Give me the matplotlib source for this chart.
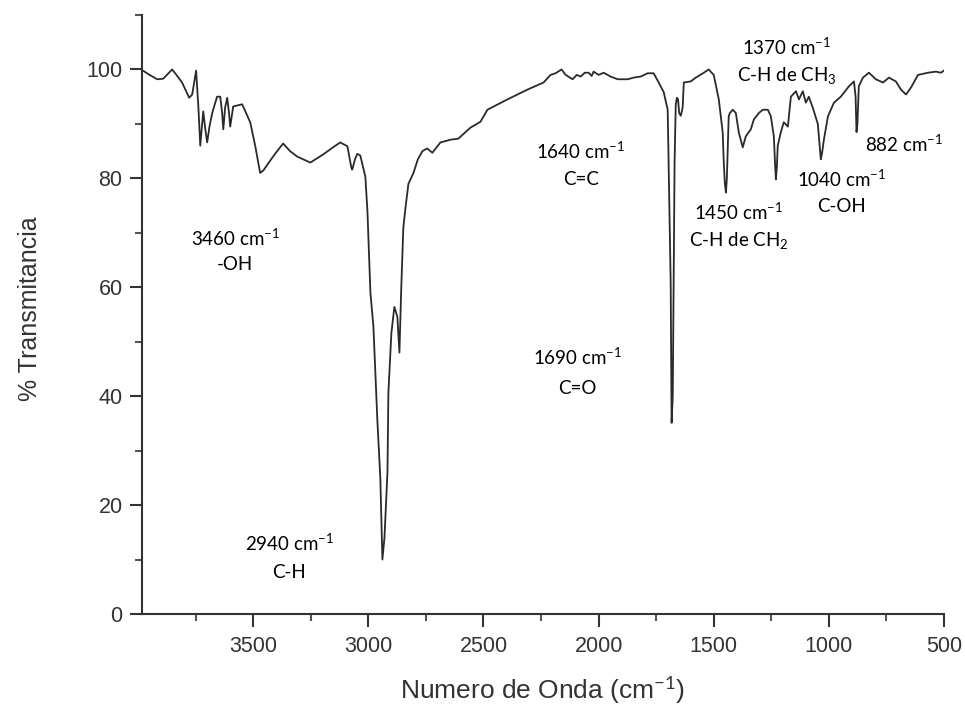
import matplotlib
matplotlib.use("Agg")
import matplotlib.pyplot as plt
from matplotlib.ticker import MultipleLocator

plt.rcParams['font.family'] = ['Liberation Sans', 'DejaVu Sans']
plt.rcParams['mathtext.fontset'] = 'custom'
plt.rcParams['mathtext.rm'] = 'Lato'
plt.rcParams['mathtext.it'] = 'Lato:italic'
plt.rcParams['mathtext.bf'] = 'Lato:bold'

# Spectrum: wavenumber (cm-1) and % transmittance
wavenumber = [3983, 3950, 3917, 3891, 3852, 3830, 3809, 3778, 3765, 3748, 3738, 3730, 3724, 3717,
              3708, 3700, 3690, 3678, 3657, 3643, 3635, 3630, 3622, 3613, 3605, 3600, 3587, 3548,
              3513, 3491, 3470, 3455, 3439, 3400, 3370, 3340, 3309, 3252, 3196, 3150, 3122, 3091,
              3074, 3070, 3058, 3048, 3035, 3013, 3004, 2991, 2978, 2961, 2948, 2942, 2939, 2930,
              2917, 2913, 2900, 2887, 2874, 2865, 2857, 2848, 2839, 2826, 2804, 2785, 2765, 2745,
              2722, 2687, 2643, 2609, 2557, 2513, 2483, 2396, 2309, 2239, 2209, 2187, 2161, 2143,
              2113, 2095, 2078, 2060, 2043, 2030, 2022, 2000, 1978, 1948, 1917, 1874, 1848, 1817,
              1787, 1761, 1739, 1717, 1700, 1696, 1687, 1683, 1678, 1674, 1670, 1665, 1660, 1655,
              1650, 1643, 1635, 1630, 1600, 1578, 1543, 1522, 1500, 1478, 1461, 1457, 1452, 1447,
              1443, 1439, 1435, 1430, 1417, 1404, 1391, 1374, 1361, 1339, 1326, 1304, 1287, 1265,
              1252, 1239, 1233, 1230, 1226, 1222, 1209, 1196, 1178, 1165, 1143, 1130, 1113, 1100,
              1087, 1070, 1048, 1040, 1035, 1030, 1022, 1004, 978, 948, 913, 891, 884, 880, 876,
              870, 852, 826, 796, 765, 739, 709, 687, 665, 643, 613, 570, 535, 513, 500]
transmittance = [99.9, 99.0, 98.2, 98.3, 100.0, 98.8, 97.6, 94.8, 95.4, 99.8, 93.0, 86.0, 89.0, 92.3,
                 89.0, 86.6, 89.5, 92.0, 95.0, 95.0, 92.0, 89.0, 93.0, 94.8, 92.0, 89.5, 93.2, 93.6,
                 90.3, 85.9, 81.0, 81.5, 82.5, 84.8, 86.4, 85.0, 84.0, 82.9, 84.4, 85.8, 86.6, 85.9,
                 82.0, 81.6, 83.5, 84.5, 84.2, 80.3, 74.0, 59.0, 52.8, 35.7, 25.0, 15.0, 10.0, 14.0,
                 26.0, 40.6, 51.6, 56.4, 54.6, 48.0, 60.0, 71.0, 74.5, 79.0, 81.0, 83.5, 85.0, 85.5,
                 84.7, 86.6, 87.1, 87.3, 89.3, 90.4, 92.6, 94.5, 96.3, 97.6, 99.0, 99.3, 100.0, 99.0,
                 98.2, 99.0, 98.7, 99.4, 99.4, 98.8, 99.6, 99.0, 99.4, 98.7, 98.2, 98.2, 98.5, 98.7,
                 99.3, 99.3, 97.6, 95.8, 92.6, 82.9, 60.8, 35.1, 40.0, 62.0, 83.0, 93.5, 94.8, 94.5,
                 92.0, 91.5, 93.0, 97.6, 97.8, 98.5, 99.4, 100.0, 99.0, 94.5, 88.4, 83.5, 79.2, 77.4,
                 80.0, 86.0, 91.4, 92.0, 92.6, 92.0, 88.4, 85.7, 87.7, 89.0, 90.8, 92.0, 92.6, 92.6,
                 91.4, 87.7, 82.0, 79.8, 82.0, 86.0, 88.4, 90.3, 89.5, 95.0, 96.0, 94.5, 96.0, 93.9,
                 95.0, 93.0, 90.0, 86.0, 83.5, 84.5, 87.0, 91.4, 93.9, 95.0, 96.9, 97.8, 95.0, 88.5, 90.0,
                 96.9, 98.5, 99.4, 98.2, 97.6, 98.5, 97.8, 96.3, 95.4, 96.7, 99.0, 99.4, 99.6, 99.4, 99.8]

# Peak annotations: (first line, second line)
peak_labels = [
    ("3460 cm$^{-1}$", "-OH"),
    ("2940 cm$^{-1}$", "C-H"),
    ("1640 cm$^{-1}$", "C=C"),
    ("1690 cm$^{-1}$", "C=O"),
    ("1450 cm$^{-1}$", "C-H de CH$_{2}$"),
    ("1370 cm$^{-1}$", "C-H de CH$_{3}$"),
    ("1040 cm$^{-1}$", "C-OH"),
    ("882 cm$^{-1}$", ""),
]
# label placement (wavenumber, %T of first line, %T of second line)
label_pos = [(3578, 69.1, 64.2), (3343, 13.0, 7.7), (2078, 84.9, 79.8), (2091, 47.1, 41.4),
             (1391, 73.7, 68.6), (1183, 104.0, 98.9), (943, 79.8, 74.8), (674, 86.2, None)]

x_ticks = [3500, 3000, 2500, 2000, 1500, 1000, 500]
y_ticks = [0, 20, 40, 60, 80, 100]

fig = plt.figure(figsize=(9.65, 7.08), dpi=100)
ax = fig.add_axes([142/965, 1-614/708, (944-142)/965, (614-15)/708])

ax.plot(wavenumber, transmittance, color='#2a2a2a', lw=1.3)

ax.set_xlim(3983, 500)
ax.set_ylim(0, 110)
ax.set_xticks(x_ticks)
ax.set_yticks(y_ticks)
ax.xaxis.set_minor_locator(MultipleLocator(250))
ax.yaxis.set_minor_locator(MultipleLocator(10))

for s in ['top', 'right']:
    ax.spines[s].set_visible(False)
for s in ['left', 'bottom']:
    ax.spines[s].set_color('#333333')
    ax.spines[s].set_linewidth(1.5)

ax.tick_params(which='major', direction='out', length=9, width=1.5, color='#333333',
               labelsize=15.5, labelcolor='#333333')
ax.tick_params(axis='x', which='major', pad=7)
ax.tick_params(axis='y', which='major', pad=5)
ax.tick_params(which='minor', direction='out', length=5, width=1.5, color='#555555')

ax.set_xlabel("Numero de Onda (cm$^{-1}$)", fontsize=19, color='#333333')
ax.set_ylabel("% Transmitancia", fontsize=18, color='#333333')
ax.xaxis.set_label_coords(0.5, -0.1)
ax.yaxis.set_label_coords(-0.125, 0.51)

for (l1, l2), (xw, y1, y2) in zip(peak_labels, label_pos):
    ax.text(xw, y1, l1, ha='center', va='center', fontsize=13.5, family=['Lato', 'DejaVu Sans'],
            color='black')
    if l2 and y2 is not None:
        ax.text(xw, y2, l2, ha='center', va='center', fontsize=13.5, family=['Lato', 'DejaVu Sans'],
                color='black')

fig.savefig("out.png", dpi=100)
